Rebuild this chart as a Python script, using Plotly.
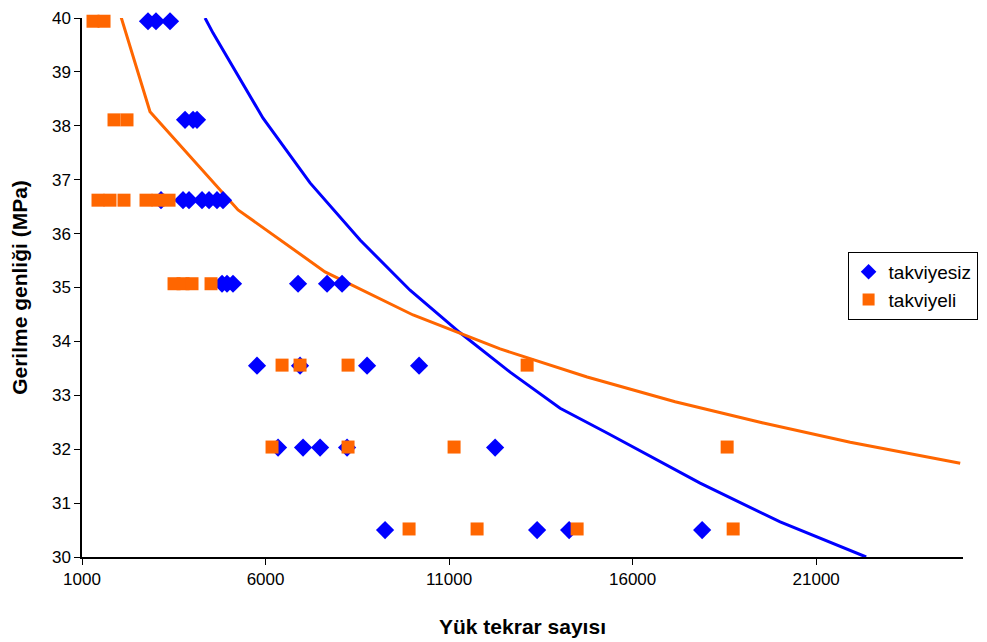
import plotly.graph_objects as go

# takviyesiz (blue diamonds)
blue_x = [2798, 3016, 3398,
          3807, 4025, 4134,
          3153, 3752, 3916, 4270, 4461, 4678, 4842,
          4815, 4951, 5114, 6886, 7676, 8085,
          5768, 6940, 8766, 10183,
          6341, 7022, 7486, 8221, 12254,
          9256, 13398, 14270, 17894]
blue_y = [39.94, 39.94, 39.94,
          38.11, 38.11, 38.11,
          36.62, 36.62, 36.62, 36.62, 36.62, 36.62, 36.62,
          35.07, 35.07, 35.07, 35.07, 35.07, 35.07,
          33.55, 33.55, 33.55, 33.55,
          32.03, 32.03, 32.03, 32.03, 32.03,
          30.5, 30.5, 30.5, 30.5]

# takviyeli (orange squares)
orange_x = [1300, 1600,
            1872, 2226,
            1436, 1763, 2144, 2744, 3071, 3371,
            3507, 3752, 3997, 4515,
            6450, 6940, 8248, 13126,
            6177, 8248, 11136, 18575,
            9910, 11763, 14488, 18739]
orange_y = [39.94, 39.94,
            38.11, 38.11,
            36.62, 36.62, 36.62, 36.62, 36.62, 36.62,
            35.07, 35.07, 35.07, 35.07,
            33.56, 33.56, 33.56, 33.56,
            32.04, 32.04, 32.04, 32.04,
            30.52, 30.52, 30.52, 30.52]

# trend lines
blue_line_x = [4352, 4570, 5932, 7213, 8575, 9937, 11300, 12662, 14025, 15305, 17839, 20019, 22362]
blue_line_y = [40.0, 39.72, 38.14, 36.94, 35.88, 34.95, 34.16, 33.43, 32.76, 32.30, 31.37, 30.65, 30.0]

orange_line_x = [2063, 2853, 5251, 7621, 10019, 12390, 14760, 17158, 19529, 21927, 24924]
orange_line_y = [40.02, 38.26, 36.44, 35.29, 34.49, 33.86, 33.34, 32.88, 32.49, 32.13, 31.74]

x_ticks = [1000, 6000, 11000, 16000, 21000]
y_ticks = [30, 31, 32, 33, 34, 35, 36, 37, 38, 39, 40]

BLUE = "#0000FF"
ORANGE = "#FF6600"

fig = go.Figure()
fig.add_trace(go.Scatter(x=blue_line_x, y=blue_line_y, mode="lines",
                         line=dict(color=BLUE, width=3), showlegend=False, hoverinfo="skip"))
fig.add_trace(go.Scatter(x=orange_line_x, y=orange_line_y, mode="lines",
                         line=dict(color=ORANGE, width=3), showlegend=False, hoverinfo="skip"))
fig.add_trace(go.Scatter(x=blue_x, y=blue_y, mode="markers", name="takviyesiz",
                         marker=dict(symbol="diamond", size=14, color=BLUE, line=dict(width=0)),
                         cliponaxis=False))
fig.add_trace(go.Scatter(x=orange_x, y=orange_y, mode="markers", name="takviyeli",
                         marker=dict(symbol="square", size=13, color=ORANGE, line=dict(width=0)),
                         cliponaxis=False))

fig.update_layout(
    width=979, height=634,
    margin=dict(l=74, r=24, t=10, b=85, autoexpand=False),
    paper_bgcolor="white", plot_bgcolor="white",
    font=dict(family="Liberation Sans, Arial, sans-serif", size=17, color="black"),
    legend=dict(x=0.869, y=0.566, xanchor="left", yanchor="top",
                bgcolor="white", bordercolor="black", borderwidth=1,
                font=dict(size=19), itemsizing="constant", tracegroupgap=2),
    xaxis=dict(range=[1000, 25000], tickvals=x_ticks, ticktext=[str(v) for v in x_ticks],
               showline=True, linecolor="black", linewidth=1.5, ticks="outside",
               ticklen=6, tickcolor="black", showgrid=False, zeroline=False,
               title=dict(text="<b>Yük tekrar sayısı</b>", font=dict(size=21), standoff=31),
               automargin=False),
    yaxis=dict(range=[30, 40], tickvals=y_ticks,
               showline=True, linecolor="black", linewidth=1.5, ticks="outside",
               ticklen=6, tickcolor="black", showgrid=False, zeroline=False,
               title=dict(text="<b>Gerilme genliği (MPa)</b>", font=dict(size=21), standoff=20),
               automargin=False),
)

fig.write_html("out.html")
